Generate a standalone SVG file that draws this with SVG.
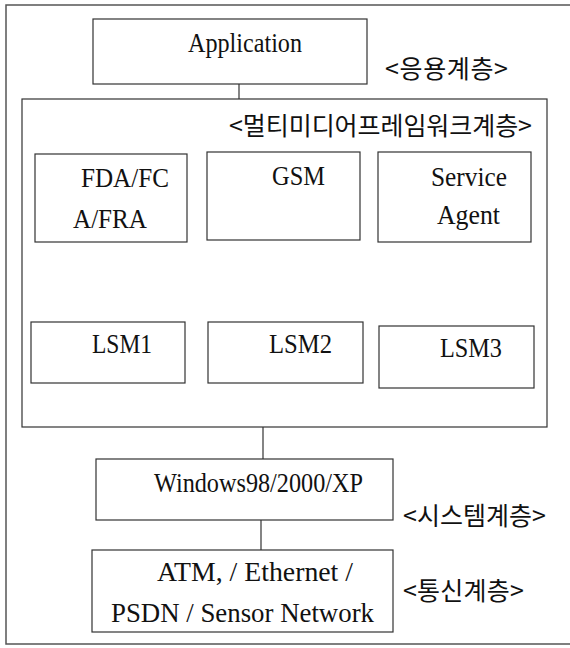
<svg xmlns="http://www.w3.org/2000/svg" width="570" height="648" viewBox="0 0 570 648">
<style>
.box{fill:#fff;stroke:#333;stroke-width:1.2}
.frame{fill:none;stroke:#555;stroke-width:1.5}
.conn{stroke:#333;stroke-width:1.2;fill:none}
.t{font-family:'Liberation Serif','Times New Roman',serif;font-size:27px;fill:#111}
.k{font-family:'Noto Sans CJK KR','Noto Sans',sans-serif;font-size:25px;fill:#111}
</style>
<rect width="570" height="648" fill="#fff"/>
<rect id="outer" class="frame" x="6" y="5" width="570" height="639"/>
<g id="connectors">
<line class="conn" x1="239" y1="84" x2="239" y2="108"/>
<line class="conn" x1="263" y1="427" x2="263" y2="459"/>
<line class="conn" x1="261" y1="520" x2="261" y2="550"/>
</g>
<g id="application">
<rect class="box" x="93" y="19" width="274" height="65"/>
<text class="t" x="188" y="52" textLength="114" lengthAdjust="spacingAndGlyphs">Application</text>
</g>
<text id="label-app" class="k" x="385" y="78" textLength="123">&lt;응용계층&gt;</text>
<g id="framework">
<rect class="box" x="22" y="99" width="525" height="328"/>
<text class="k" x="229" y="135" textLength="303">&lt;멀티미디어프레임워크계층&gt;</text>
</g>
<g id="fda">
<rect class="box" x="35" y="154" width="152" height="88"/>
<text class="t" x="81" y="187" textLength="88" lengthAdjust="spacingAndGlyphs">FDA/FC</text>
<text class="t" x="73" y="228" textLength="74" lengthAdjust="spacingAndGlyphs">A/FRA</text>
</g>
<g id="gsm">
<rect class="box" x="207" y="152" width="153" height="88"/>
<text class="t" x="272" y="185" textLength="53" lengthAdjust="spacingAndGlyphs">GSM</text>
</g>
<g id="service">
<rect class="box" x="378" y="152" width="153" height="90"/>
<text class="t" x="431" y="186" textLength="76" lengthAdjust="spacingAndGlyphs">Service</text>
<text class="t" x="437" y="224" textLength="63" lengthAdjust="spacingAndGlyphs">Agent</text>
</g>
<g id="lsm1">
<rect class="box" x="31" y="322" width="154" height="61"/>
<text class="t" x="92" y="353" textLength="60" lengthAdjust="spacingAndGlyphs">LSM1</text>
</g>
<g id="lsm2">
<rect class="box" x="208" y="322" width="155" height="61"/>
<text class="t" x="269" y="353" textLength="63" lengthAdjust="spacingAndGlyphs">LSM2</text>
</g>
<g id="lsm3">
<rect class="box" x="379" y="326" width="155" height="62"/>
<text class="t" x="440" y="357" textLength="62" lengthAdjust="spacingAndGlyphs">LSM3</text>
</g>
<g id="windows">
<rect class="box" x="96" y="459" width="297" height="61"/>
<text class="t" x="154" y="492" textLength="209" lengthAdjust="spacingAndGlyphs">Windows98/2000/XP</text>
</g>
<text id="label-sys" class="k" x="403" y="525" textLength="143">&lt;시스템계층&gt;</text>
<g id="network">
<rect class="box" x="92" y="550" width="301" height="82"/>
<text class="t" x="157" y="581" textLength="196" lengthAdjust="spacingAndGlyphs">ATM, / Ethernet /</text>
<text class="t" x="111" y="622" textLength="263" lengthAdjust="spacingAndGlyphs">PSDN / Sensor Network</text>
</g>
<text id="label-net" class="k" x="403" y="600" textLength="121">&lt;통신계층&gt;</text>
</svg>
